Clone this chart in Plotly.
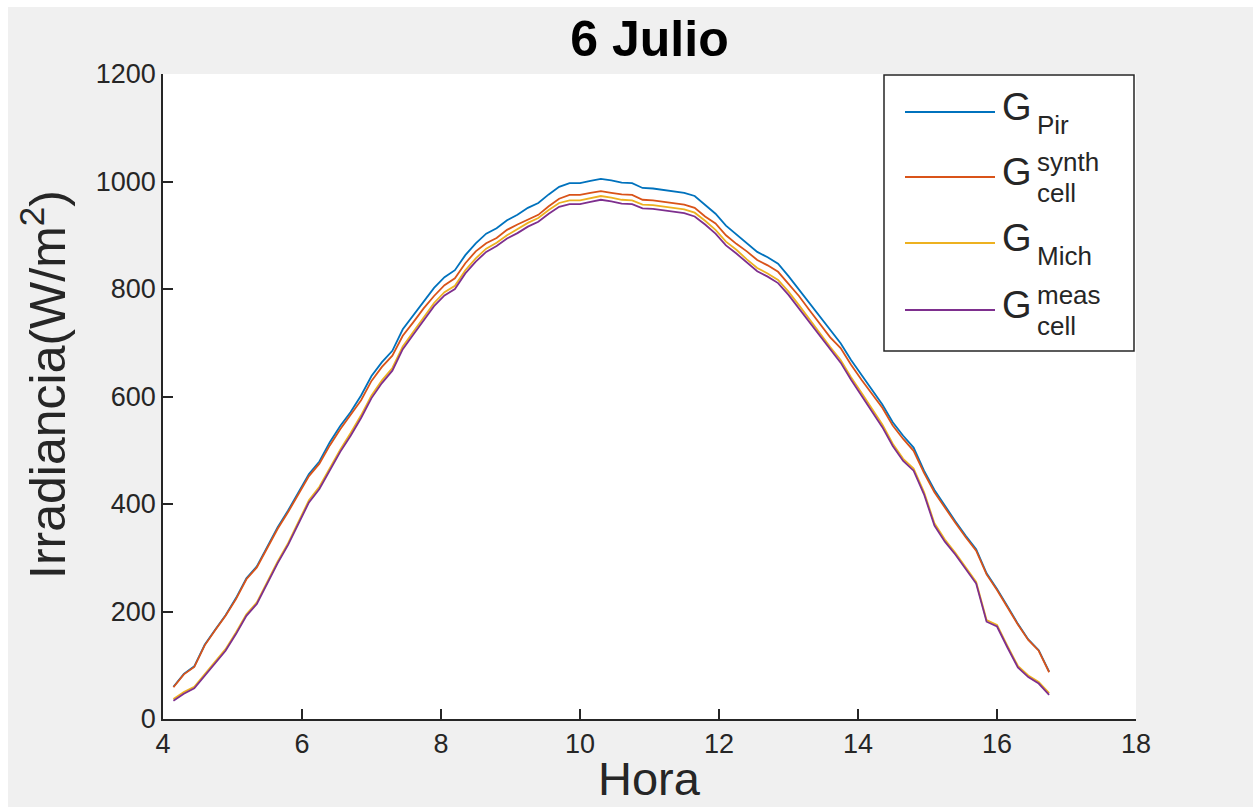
import plotly.graph_objects as go

# Sample times (hours, local) for 6 July
hora = [4.15, 4.30, 4.45, 4.60, 4.75, 4.90, 5.05, 5.20, 5.35, 5.50,
        5.65, 5.80, 5.95, 6.10, 6.25, 6.40, 6.55, 6.70, 6.85, 7.00,
        7.15, 7.30, 7.45, 7.60, 7.75, 7.90, 8.05, 8.20, 8.35, 8.50,
        8.65, 8.80, 8.95, 9.10, 9.25, 9.40, 9.55, 9.70, 9.85, 10.00,
        10.15, 10.30, 10.45, 10.60, 10.75, 10.90, 11.05, 11.20, 11.35, 11.50,
        11.65, 11.80, 11.95, 12.10, 12.25, 12.40, 12.55, 12.70, 12.85, 13.00,
        13.15, 13.30, 13.45, 13.60, 13.75, 13.90, 14.05, 14.20, 14.35, 14.50,
        14.65, 14.80, 14.95, 15.10, 15.25, 15.40, 15.55, 15.70, 15.85, 16.00,
        16.15, 16.30, 16.45, 16.60, 16.75]

# Pyranometer irradiance (W/m2)
g_pir = [60, 84, 98, 138, 166, 193, 225, 262, 284, 322,
         357, 388, 422, 456, 479, 515, 545, 571, 602, 638,
         664, 685, 725, 750, 776, 802, 822, 835, 863, 885,
         903, 913, 928, 938, 951, 960, 976, 990, 997, 997,
         1001, 1005, 1002, 998, 997, 988, 987, 984, 981, 979,
         973, 957, 940, 918, 902, 885, 869, 859, 847, 824,
         799, 773, 747, 722, 699, 668, 640, 613, 585, 552,
         527, 505, 462, 426, 396, 368, 341, 316, 271, 242,
         210, 177, 148, 128, 88]

# Synthetic cell irradiance
g_cell_synth = [59, 83, 97, 137, 165, 192, 223, 260, 282, 319,
                354, 385, 418, 452, 475, 509, 539, 565, 593, 629,
                655, 676, 713, 738, 764, 787, 807, 820, 848, 870,
                885, 895, 910, 920, 929, 938, 954, 968, 975, 975,
                979, 982, 979, 976, 975, 966, 965, 962, 959, 957,
                951, 935, 922, 900, 884, 870, 854, 844, 832, 809,
                787, 761, 735, 710, 690, 659, 631, 604, 579, 546,
                521, 499, 458, 422, 393, 365, 338, 313, 269, 240,
                208, 176, 147, 127, 87]

# Michalsky model irradiance
g_mich = [37, 50, 60, 83, 106, 130, 161, 195, 217, 255,
          293, 327, 366, 407, 432, 466, 501, 532, 565, 602,
          630, 653, 693, 720, 747, 774, 794, 806, 835, 857,
          875, 886, 900, 911, 923, 932, 947, 960, 965, 965,
          969, 973, 970, 966, 965, 957, 956, 953, 950, 948,
          942, 927, 910, 888, 873, 855, 839, 829, 817, 795,
          770, 744, 717, 692, 668, 636, 607, 578, 548, 512,
          484, 466, 422, 364, 334, 309, 283, 255, 184, 175,
          136, 99, 81, 69, 48]

# Measured cell irradiance
g_cell_meas = [34, 47, 57, 80, 103, 127, 158, 192, 214, 252,
               290, 324, 363, 403, 428, 462, 497, 527, 560, 597,
               625, 648, 688, 715, 742, 768, 788, 800, 829, 851,
               869, 880, 894, 904, 916, 925, 940, 953, 958, 958,
               962, 966, 963, 959, 958, 950, 949, 946, 943, 941,
               935, 920, 903, 881, 866, 849, 833, 823, 811, 789,
               764, 738, 712, 687, 663, 631, 602, 573, 543, 508,
               480, 462, 418, 360, 330, 306, 280, 252, 181, 172,
               133, 96, 78, 66, 45]

x_ticks = [4, 6, 8, 10, 12, 14, 16, 18]
y_ticks = [0, 200, 400, 600, 800, 1000, 1200]

series = [
    ("G<sub>Pir</sub>", g_pir, "#0072BD", ("Pir", None)),
    ("G<sub>cell</sub><sup>synth</sup>", g_cell_synth, "#D95319", ("cell", "synth")),
    ("G<sub>Mich</sub>", g_mich, "#EDB120", ("Mich", None)),
    ("G<sub>cell</sub><sup>meas</sup>", g_cell_meas, "#7E2F8E", ("cell", "meas")),
]

W, H = 1253, 807
L, R, T, B = 163, 1136, 74, 719
TXT = "#262626"
FONT = "Liberation Sans, Arial, sans-serif"


def px(xp):
    return (xp - L) / (R - L)


def py(yp):
    return (B - yp) / (B - T)


fig = go.Figure()
for name, vals, color, _ in series:
    fig.add_trace(go.Scatter(x=hora, y=vals, mode="lines", name=name,
                             line=dict(color=color, width=1.8),
                             showlegend=False))

shapes = []
annotations = []

# legend box
shapes.append(dict(type="rect", xref="paper", yref="paper",
                   x0=px(884), x1=px(1134), y0=py(351), y1=py(75),
                   line=dict(color="#262626", width=1.5), fillcolor="white",
                   layer="above"))

legend_rows = [112, 177, 243, 310]
for (name, vals, color, (sub, sup)), ly in zip(series, legend_rows):
    shapes.append(dict(type="line", xref="paper", yref="paper",
                       x0=px(905), x1=px(995), y0=py(ly), y1=py(ly),
                       line=dict(color=color, width=1.8), layer="above"))
    annotations.append(dict(text="G", xref="paper", yref="paper",
                            x=px(1001), y=py(ly - 5), xanchor="left", yanchor="middle",
                            showarrow=False, borderpad=0,
                            font=dict(family=FONT, size=38, color=TXT)))
    if sup is None:
        annotations.append(dict(text=sub, xref="paper", yref="paper",
                                x=px(1036), y=py(ly + 13), xanchor="left", yanchor="middle",
                                showarrow=False, borderpad=0,
                                font=dict(family=FONT, size=26, color=TXT)))
    else:
        annotations.append(dict(text=sup, xref="paper", yref="paper",
                                x=px(1036), y=py(ly - 15), xanchor="left", yanchor="middle",
                                showarrow=False, borderpad=0,
                                font=dict(family=FONT, size=26, color=TXT)))
        annotations.append(dict(text=sub, xref="paper", yref="paper",
                                x=px(1036), y=py(ly + 16), xanchor="left", yanchor="middle",
                                showarrow=False, borderpad=0,
                                font=dict(family=FONT, size=26, color=TXT)))

# axis titles
annotations.append(dict(text="Hora", xref="paper", yref="paper",
                        x=0.5, y=py(806), xanchor="center", yanchor="bottom",
                        showarrow=False, borderpad=0,
                        font=dict(family=FONT, size=47, color=TXT)))
annotations.append(dict(text="Irradiancia(W/m<sup>2</sup>)", xref="paper", yref="paper",
                        x=px(44), y=py(385), xanchor="center", yanchor="middle",
                        textangle=-90, showarrow=False, borderpad=0,
                        font=dict(family=FONT, size=50, color=TXT)))

# thin white frame on top and left edges of the figure
shapes.append(dict(type="rect", xref="paper", yref="paper",
                   x0=px(0), x1=px(W), y0=py(7), y1=py(0),
                   line=dict(width=0), fillcolor="white", layer="below"))
shapes.append(dict(type="rect", xref="paper", yref="paper",
                   x0=px(0), x1=px(8), y0=py(H), y1=py(0),
                   line=dict(width=0), fillcolor="white", layer="below"))

fig.update_layout(
    width=W, height=H,
    margin=dict(l=L, r=W - R, t=T, b=H - B, autoexpand=False),
    paper_bgcolor="#f0f0f0",
    plot_bgcolor="white",
    font=dict(family=FONT, color=TXT),
    title=dict(text="<b>6 Julio</b>", xref="paper", x=0.5, xanchor="center",
               y=1 - 38 / H, yanchor="middle",
               font=dict(family=FONT, size=50, color="black")),
    shapes=shapes,
    annotations=annotations,
    showlegend=False,
)

fig.update_xaxes(range=[4, 18], tickvals=x_ticks, ticktext=[str(v) for v in x_ticks],
                 showgrid=False, zeroline=False, showline=True, automargin=False,
                 linecolor="#262626", linewidth=1.5, mirror=False,
                 ticks="inside", ticklen=10, tickwidth=1.5, tickcolor="#262626",
                 tickfont=dict(family=FONT, size=27, color=TXT))
fig.update_yaxes(range=[0, 1200], tickvals=y_ticks, ticktext=[str(v) for v in y_ticks],
                 showgrid=False, zeroline=False, showline=True, automargin=False,
                 linecolor="#262626", linewidth=1.5, mirror=False,
                 ticks="inside", ticklen=10, tickwidth=1.5, tickcolor="#262626",
                 tickfont=dict(family=FONT, size=27, color=TXT))

fig.write_html("out.html")
